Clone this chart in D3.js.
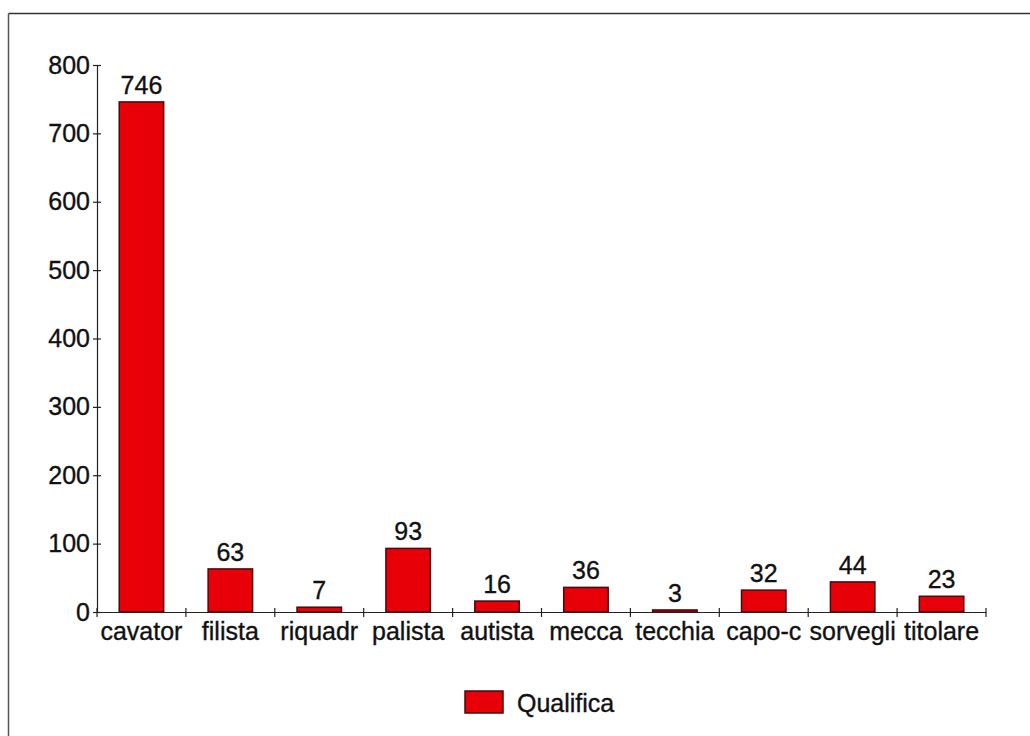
<!DOCTYPE html>
<html>
<head>
<meta charset="utf-8">
<script src="https://cdn.jsdelivr.net/npm/d3@7"></script>
<style>
  html, body { margin: 0; padding: 0; background: #fff; }
  svg { display: block; }
  text { font-family: "Liberation Sans", Arial, sans-serif; fill: #111; stroke: #111; stroke-width: 0.35px; }
</style>
</head>
<body>
<svg id="chart" width="1030" height="736"></svg>
<script>
// Numero di addetti per qualifica
const categories = ["cavator", "filista", "riquadr", "palista", "autista", "mecca", "tecchia", "capo-c", "sorvegli", "titolare"];
const values = [746, 63, 7, 93, 16, 36, 3, 32, 44, 23];
const yTicks = [0, 100, 200, 300, 400, 500, 600, 700, 800];
const seriesName = "Qualifica";

const fill = "#e80008";
const edge = "#4a0710";
const fontSize = 25;
const fontFamily = "'Liberation Sans', Arial, sans-serif";

const svg = d3.select("#chart");

// outer frame: top and left edges
svg.append("line").attr("x1", 8.5).attr("x2", 1030).attr("y1", 13.5).attr("y2", 13.5)
  .attr("stroke", "#333").attr("stroke-width", 1.5);
svg.append("line").attr("x1", 8.5).attr("x2", 8.5).attr("y1", 13.5).attr("y2", 736)
  .attr("stroke", "#555").attr("stroke-width", 1.5);

const x = d3.scaleBand().domain(categories).range([97, 986])
  .paddingInner(0.5).paddingOuter(0.25);
const y = d3.scaleLinear().domain([0, 800]).range([612, 65]);

const step = x.step();
const x0 = x.range()[0];

// y axis
const yAxis = svg.append("g").attr("transform", `translate(${x0},0)`)
  .call(d3.axisLeft(y).tickValues(yTicks).tickSizeInner(4).tickSizeOuter(0).tickPadding(3));
yAxis.select(".domain").attr("stroke", "#222").attr("stroke-width", 1.2);
yAxis.selectAll(".tick line").attr("x1", 4).attr("x2", -4).attr("stroke", "#222").attr("stroke-width", 1.2);
yAxis.selectAll(".tick text").style("font-size", fontSize + "px")
  .style("font-family", fontFamily).attr("fill", "#111");

// bars
svg.append("g").selectAll("rect").data(values).join("rect")
  .attr("x", (d, i) => x(categories[i]))
  .attr("y", d => y(d))
  .attr("width", x.bandwidth())
  .attr("height", d => y(0) - y(d))
  .attr("fill", fill)
  .attr("stroke", edge)
  .attr("stroke-width", 1.5);

// value labels
svg.append("g").selectAll("text").data(values).join("text")
  .attr("x", (d, i) => x(categories[i]) + x.bandwidth() / 2)
  .attr("y", d => y(d) - 8)
  .attr("text-anchor", "middle")
  .style("font-size", fontSize + "px")
  .text(d => d);

// x axis with ticks between categories
const xAxis = svg.append("g").attr("transform", `translate(0,${y(0)})`)
  .call(d3.axisBottom(x).tickSize(0).tickPadding(10));
xAxis.select(".domain").attr("stroke", "#222").attr("stroke-width", 1.2);
xAxis.selectAll(".tick text").style("font-size", fontSize + "px")
  .style("font-family", fontFamily).attr("fill", "#111");
const bounds = d3.range(categories.length + 1).map(i => x0 + i * step);
xAxis.selectAll("line.sep").data(bounds).join("line").attr("class", "sep")
  .attr("x1", d => d).attr("x2", d => d).attr("y1", -4).attr("y2", 5)
  .attr("stroke", "#222").attr("stroke-width", 1.2);

// legend
const legend = svg.append("g").attr("transform", "translate(465,691)");
legend.append("rect").attr("width", 38).attr("height", 22)
  .attr("fill", fill).attr("stroke", edge).attr("stroke-width", 1.5);
legend.append("text").attr("x", 52).attr("y", 21)
  .style("font-size", fontSize + "px").text(seriesName);
</script>
</body>
</html>
